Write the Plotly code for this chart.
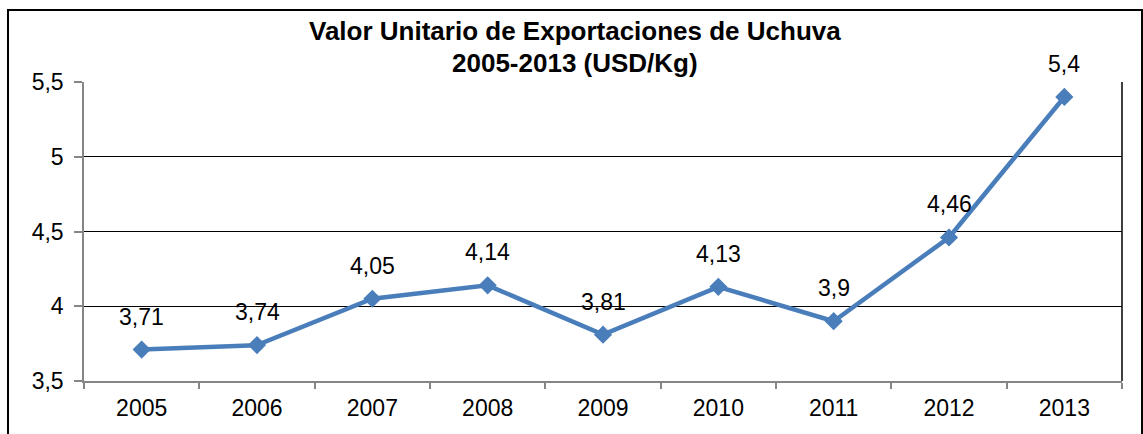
import plotly.graph_objects as go

# Valor unitario de exportaciones de uchuva (USD/Kg)
anios = ['2005', '2006', '2007', '2008', '2009', '2010', '2011', '2012', '2013']
valores = [3.71, 3.74, 4.05, 4.14, 3.81, 4.13, 3.9, 4.46, 5.4]
etiquetas = [str(v).replace('.', ',') for v in valores]
titulo = ['Valor Unitario de Exportaciones de Uchuva', '2005-2013 (USD/Kg)']

W, H = 1143, 434
L, R, T, B = 84, 21, 82, 53
pw, ph = W - L - R, H - T - B

fig = go.Figure()
fig.add_trace(go.Scatter(
    x=anios, y=valores, mode='lines+markers',
    line=dict(color='#4A7EBB', width=4.5),
    marker=dict(symbol='diamond', size=14, color='#4A7EBB'),
    hoverinfo='x+y', showlegend=False))

# etiquetas de datos sobre cada punto (x por indice de categoria)
for i, (v, t) in enumerate(zip(valores, etiquetas)):
    fig.add_annotation(x=i, y=v, text=t, showarrow=False, yshift=33,
                       font=dict(size=23, color='black'))

# titulo en dos lineas, centrado en el marco
for txt, ypx in zip(titulo, [31, 63]):
    fig.add_annotation(xref='paper', yref='paper',
                       x=((8 + 1142) / 2 - L) / pw, y=(H - B - ypx) / ph,
                       xanchor='center', yanchor='middle', showarrow=False,
                       text='<b>' + txt + '</b>', font=dict(size=26, color='black'))

# borde derecho del area de trazado y marco exterior
fig.add_shape(type='line', xref='paper', yref='paper', x0=1, x1=1, y0=0, y1=1,
              line=dict(color='black', width=1.5))
fig.add_shape(type='rect', xref='paper', yref='paper',
              x0=(8 - L) / pw, x1=(1142 - L) / pw,
              y0=-0.5, y1=(H - B - 10) / ph,
              line=dict(color='black', width=2))

fig.update_layout(
    width=W, height=H,
    margin=dict(l=L, r=R, t=T, b=B),
    paper_bgcolor='white', plot_bgcolor='white',
    separators=',.',
    font=dict(family='Liberation Sans, Arial, sans-serif', size=23, color='black'),
    xaxis=dict(type='category', range=[-0.5, 8.5], showgrid=False,
               showline=True, linecolor='#868686', linewidth=1.5,
               ticks='outside', tickson='boundaries', ticklen=6,
               tickcolor='#868686', tickwidth=1.5, tickfont=dict(size=23),
               ticklabelstandoff=6),
    yaxis=dict(range=[3.5, 5.5], dtick=0.5, tick0=3.5,
               showgrid=True, gridcolor='black', gridwidth=1, zeroline=False,
               showline=True, linecolor='#868686', linewidth=1.5,
               ticks='outside', ticklen=8, tickcolor='#868686', tickwidth=1.5,
               tickfont=dict(size=23), ticklabelstandoff=6),
)

fig.write_html('out.html', config={'displayModeBar': False},
               post_script="document.body.style.margin='0';")
